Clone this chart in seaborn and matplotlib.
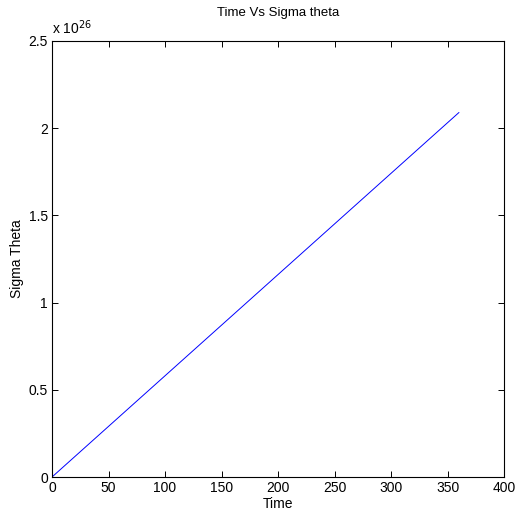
import numpy as np
import pandas as pd
import matplotlib
matplotlib.use("Agg")
import matplotlib.pyplot as plt
import seaborn as sns

# dados
tempo = [0, 90, 180, 270, 360]
sigma_theta = [0.0, 0.5225e26, 1.045e26, 1.5675e26, 2.09e26]

df = pd.DataFrame({"Time": tempo, "Sigma": sigma_theta})

sns.set_style("ticks")
plt.rcParams['font.family'] = ['Liberation Sans', 'DejaVu Sans']
plt.rcParams['font.size'] = 10
plt.rcParams['text.color'] = 'black'
plt.rcParams['axes.labelcolor'] = 'black'
plt.rcParams['xtick.color'] = 'black'
plt.rcParams['ytick.color'] = 'black'

fig = plt.figure(figsize=(5.15, 5.22), dpi=100)
ax = fig.add_axes([0.101, 0.0862, 0.878, 0.8353])

sns.lineplot(data=df, x="Time", y="Sigma", color="blue", linewidth=0.7, ax=ax)

ax.set_xlim(0, 400)
ax.set_ylim(0, 2.5e26)
ax.set_xticks(np.arange(0, 401, 50))
ax.set_yticks(np.arange(0, 2.51e26, 0.5e26))
ax.set_yticklabels(["0", "0.5", "1", "1.5", "2", "2.5"])
ax.text(0.0, 1.008, r"x 10$^{26}$", transform=ax.transAxes, fontsize=10, va="bottom", ha="left")

ax.tick_params(direction="in", top=True, right=True, length=4, width=0.7, labelsize=10, pad=3)
for s in ax.spines.values():
    s.set_linewidth(0.8)
    s.set_color("black")

ax.set_title("Time Vs Sigma theta", fontsize=9.5, pad=18)
ax.set_xlabel("Time", fontsize=10, labelpad=1)
ax.set_ylabel("Sigma Theta", fontsize=10, labelpad=3)

fig.savefig("out.png", dpi=100, facecolor="white")
